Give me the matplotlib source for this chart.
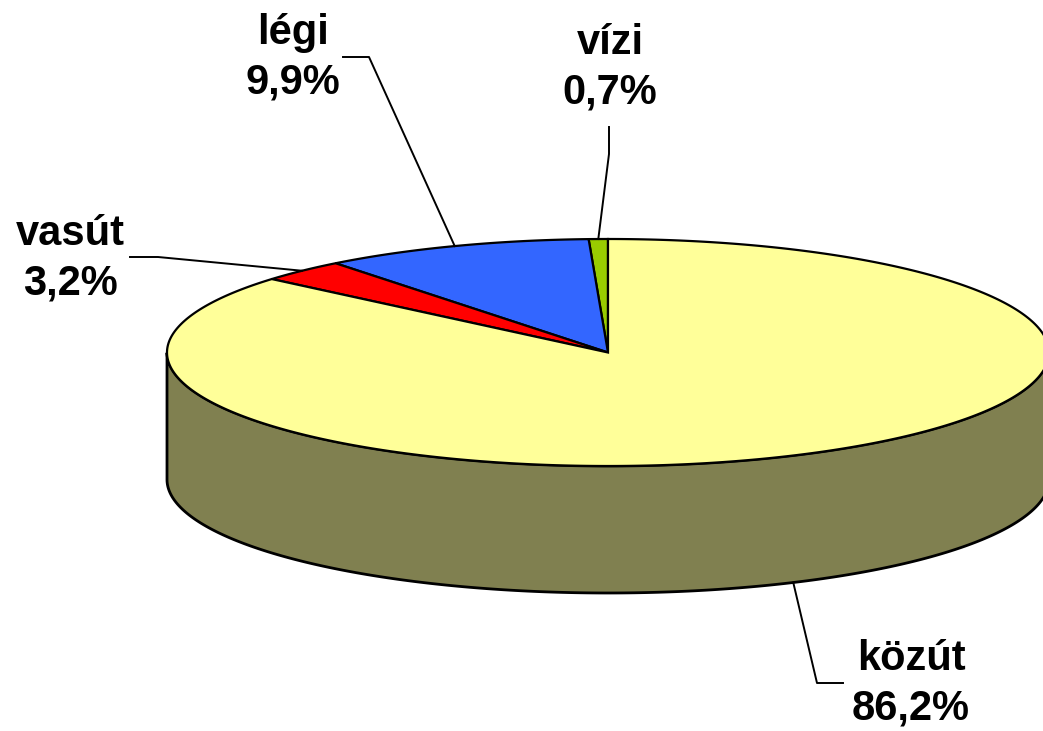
import numpy as np
import matplotlib.pyplot as plt
from matplotlib.patches import Polygon

# adatok
labels = ['vízi', 'légi', 'vasút', 'közút']
shares = [0.7, 9.9, 3.2, 86.2]
colors = ['#99CC00', '#3366FF', '#FF0000', '#FFFF99']
side_color = '#808050'

# geometria (pixel)
cx, cy = 608, 352.5
rx, ry = 441, 113.5
depth = 127

# címke helyek + törés pontok
label_pos = [(610, 68), (293, 58), (70, 259), (911, 684)]
elbows = [[(609, 127), (609, 154)],
          [(343, 57), (369, 57)],
          [(130, 257), (158, 257)],
          [(843, 683), (817, 683)]]

fig = plt.figure(figsize=(10.43, 7.31), dpi=100)
ax = fig.add_axes([0, 0, 1, 1])
ax.set_xlim(0, 1043)
ax.set_ylim(731, 0)
ax.axis('off')


def pt(theta, dz=0):
    return cx + rx * np.cos(theta), cy - ry * np.sin(theta) + dz


angles = np.cumsum([0] + shares) / 100 * 2 * np.pi + np.pi / 2

# oldalfal
for i in range(len(shares)):
    t = np.linspace(angles[i], angles[i + 1], 400)
    t = t[np.sin(t) <= 0]
    if len(t) < 2:
        continue
    xs, ys = pt(t)
    xb, yb = pt(t[::-1], depth)
    poly = Polygon(np.column_stack([np.r_[xs, xb], np.r_[ys, yb]]),
                   closed=True, fc=side_color, ec='black', lw=2, zorder=1)
    ax.add_patch(poly)

# tető
for i in range(len(shares)):
    t = np.linspace(angles[i], angles[i + 1], 400)
    xs, ys = pt(t)
    poly = Polygon(np.column_stack([np.r_[cx, xs], np.r_[cy, ys]]),
                   closed=True, fc=colors[i], ec='black', lw=1.6, zorder=2)
    ax.add_patch(poly)

# címkék
for i, lab in enumerate(labels):
    mid = (angles[i] + angles[i + 1]) / 2
    dz = depth if np.sin(mid) < 0 else 0
    ex, ey = pt(mid, dz)
    (x0, y0), (x1, y1) = elbows[i]
    ax.plot([x0, x1, ex], [y0, y1, ey], color='black', lw=1.4, zorder=3)
    txt = '%s\n%s%%' % (lab, ('%.1f' % shares[i]).replace('.', ','))
    ax.text(label_pos[i][0], label_pos[i][1], txt, ha='center', va='center',
            fontsize=30, fontweight='bold', family='Liberation Sans',
            linespacing=1.3, zorder=4)

fig.savefig('out.png', dpi=100)
